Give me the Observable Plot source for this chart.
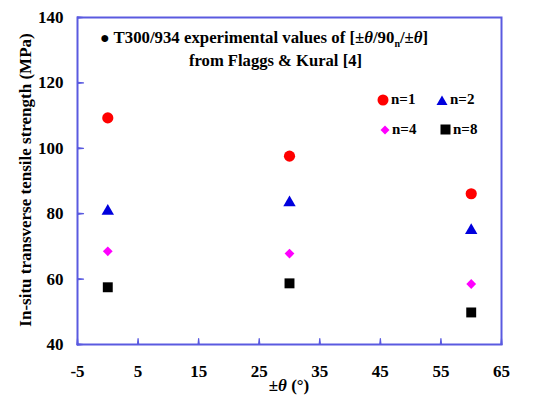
<!DOCTYPE html>
<html>
<head>
<meta charset="utf-8">
<script src="https://cdn.jsdelivr.net/npm/d3@7"></script>
<script src="https://cdn.jsdelivr.net/npm/@observablehq/plot@0.6"></script>
<style>
  body { margin: 0; background: #fff; }
  #wrap { position: relative; width: 553px; height: 398px; font-family: "Liberation Serif", "Times New Roman", serif; font-weight: bold; color: #000; }
  #wrap > svg { position: absolute; left: 0; top: 0; }
  .ov { position: absolute; white-space: nowrap; font-weight: bold; }
  .leg { font-size: 15px; display: flex; align-items: center; }
  .sym { display: inline-block; margin-right: 2px; line-height: 0; }
</style>
</head>
<body>
<div id="wrap"></div>
<script>
const angles = [0, 30, 60];
const n1 = [109.3, 97.6, 86.1];
const n2 = [80.8, 83.4, 74.9];
const n4 = [68.5, 67.8, 58.5];
const n8 = [57.5, 58.7, 49.8];
const xTicks = [-5, 5, 15, 25, 35, 45, 55, 65];
const yTicks = [40, 60, 80, 100, 120, 140];

const series = [
  {name: "n=1", values: n1, symbol: "circle", color: "#ff0000", r: 5.6},
  {name: "n=2", values: n2, symbol: "triangle", color: "#0000dd", r: 4.6},
  {name: "n=4", values: n4, symbol: "diamond2", color: "#ff00ff", r: 4.4},
  {name: "n=8", values: n8, symbol: "square", color: "#000000", r: 5.6}
];

const marks = [];
for (const s of series) {
  const rows = angles.map((a, i) => ({theta: a, v: s.values[i]}));
  marks.push(Plot.dot(rows, {x: "theta", y: "v", symbol: () => s.symbol, fill: s.color, stroke: "none", r: s.r}));
}
const axisCol = "#5a5ae0";
const fmt = d => String(d);
const chart = Plot.plot({
  width: 553,
  height: 398,
  marginLeft: 77,
  marginRight: 52,
  marginTop: 17,
  marginBottom: 54,
  style: {fontFamily: "Liberation Serif, serif", fontWeight: "bold", fontSize: "17px", background: "white"},
  x: {domain: [-5, 65], ticks: xTicks, label: null},
  y: {domain: [40, 140], ticks: yTicks, label: null},
  symbol: {type: "identity"},
  marks: [
    Plot.axisX({ticks: xTicks, tickSize: 0, tickPadding: 20, tickFormat: fmt, fontSize: 17, fontWeight: "bold", fill: "#000", label: null}),
    Plot.axisY({ticks: yTicks, tickSize: 0, tickPadding: 14, tickFormat: fmt, fontSize: 17, fontWeight: "bold", fill: "#000", label: null}),
    Plot.vector(xTicks, {x: d => d, frameAnchor: "bottom", rotate: 0, length: 6, anchor: "start", shape: "spike", r: 0.6, stroke: axisCol, strokeWidth: 1.2, fill: axisCol}),
    Plot.vector(yTicks, {y: d => d, frameAnchor: "left", rotate: 90, length: 6, anchor: "start", shape: "spike", r: 0.6, stroke: axisCol, strokeWidth: 1.2, fill: axisCol}),
    ...marks,
    Plot.frame({stroke: axisCol, strokeWidth: 2})
  ]
});
const wrap = document.getElementById("wrap");
wrap.appendChild(chart);

function ov(html, style) {
  const d = document.createElement("div");
  d.className = "ov";
  d.innerHTML = html;
  Object.assign(d.style, style);
  wrap.appendChild(d);
  return d;
}
// annotation
ov('<span style="font-size:16px">&#9679;</span> T300/934 experimental values of [±<i>θ</i>/90<sub style="font-size:10px">n</sub>/±<i>θ</i>]',
  {left: "100px", top: "28px", fontSize: "16.8px"});
ov('from Flaggs &amp; Kural [4]', {left: "189px", top: "51px", fontSize: "16.6px"});

// y label
ov('In-situ transverse tensile strength (MPa)', {left: "26px", top: "180px", fontSize: "17px", transform: "translate(-50%,-50%) rotate(-90deg)", transformOrigin: "center"});
// x label
ov('±<i>θ</i> (°)', {left: "289px", top: "386px", fontSize: "17px", transform: "translate(-50%,-50%)"});

// legend
const legPos = [[377, 91], [436, 91], [380, 121], [440, 121]];
const svgSym = {
  circle: c => `<svg width="12" height="12"><circle cx="6" cy="6" r="5.5" fill="${c}"/></svg>`,
  triangle: c => `<svg width="12" height="12"><polygon points="6,1.5 11.5,11 0.5,11" fill="${c}"/></svg>`,
  diamond2: c => `<svg width="10" height="10"><polygon points="5,0.5 9.5,5 5,9.5 0.5,5" fill="${c}"/></svg>`,
  square: c => `<svg width="11" height="11"><rect x="0.5" y="0.5" width="10" height="10" fill="${c}"/></svg>`
};
series.forEach((s, i) => {
  const d = ov(`<span class="sym">${svgSym[s.symbol](s.color)}</span>${s.name}`, {left: legPos[i][0] + "px", top: legPos[i][1] + "px"});
  d.classList.add("leg");
});
</script>
</body>
</html>
